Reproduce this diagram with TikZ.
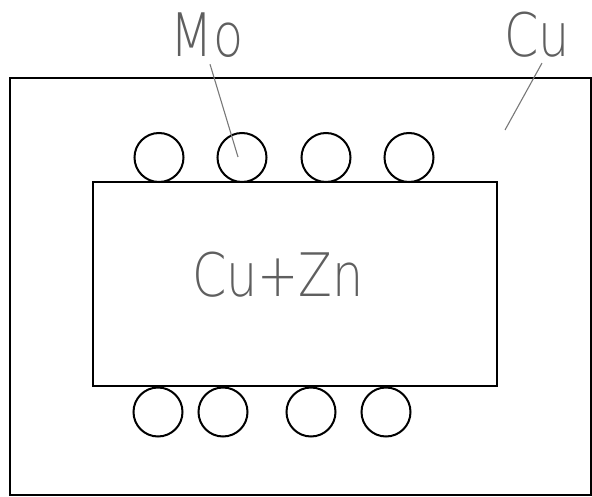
\documentclass[tikz,border=0pt]{standalone}
\usepackage{fontspec}
\usepackage{tikz}
\usetikzlibrary{calc}
\newfontfamily\labelfont{DejaVu Sans ExtraLight}
\definecolor{inkBlack}{RGB}{0, 0, 0}
\definecolor{labelGray}{RGB}{95, 95, 95}
\definecolor{leaderGray}{RGB}{120, 120, 120}
\tikzset{
  wall/.style={draw=inkBlack, line width=2.6pt},
  ball/.style={draw=inkBlack, circle, line width=2pt, minimum size=49pt, inner sep=0pt},
  tag/.style={text=labelGray, inner sep=0pt, anchor=base, xscale=0.82,
    font={\labelfont\fontsize{60}{60}\selectfont}},
  leader/.style={draw=leaderGray, line width=1.1pt}
}

\begin{document}
\begin{tikzpicture}[x=1pt, y=-1pt]
    \useasboundingbox (0,0) rectangle (592,497);
    % copper shell and brass core
    \draw[wall] (10,78) rectangle (591,495);
    \draw[wall] (93,182) rectangle (497,386);
    \node[tag] (core) at (278,297) {Cu+Zn};
    % Mo particles, top row and bottom row
    \foreach \x [count=\i] in {159,242,326,409}
        \node[ball] (t\i) at (\x,157.5) {};
    \foreach \x [count=\i] in {158,223,311,386}
        \node[ball] (b\i) at (\x,412) {};
    % labels with leaders
    \node[tag] (mo) at (207,57) {Mo};
    \node[tag] (cu) at (537,57) {Cu};
    \coordinate (moTip) at (238,157);
    \coordinate (cuTip) at (505,130);
    \draw[leader] ($(mo.south)+(3,6)$) -- (moTip);
    \draw[leader] ($(cu.south)+(5,5)$) -- (cuTip);
\end{tikzpicture}
\end{document}
